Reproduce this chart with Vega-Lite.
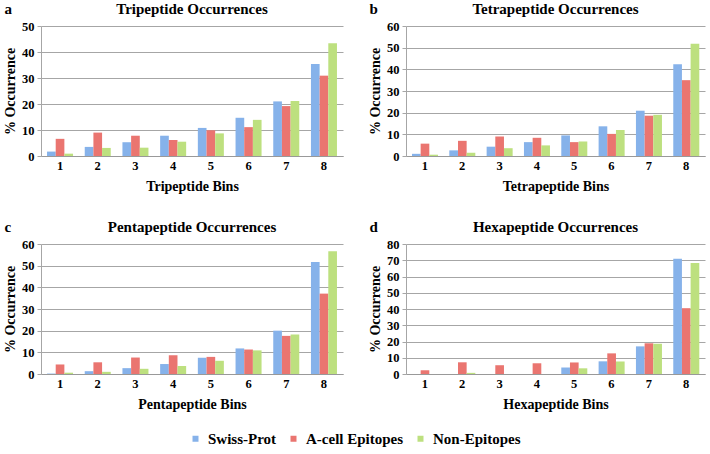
{
  "$schema": "https://vega.github.io/schema/vega-lite/v6.json",
  "padding": {"left": 3, "top": 2, "right": 2, "bottom": 4},
  "datasets": {
    "d": [
      {"panel":"a","bin":1,"series":"Swiss-Prot","value":1.7},
      {"panel":"a","bin":1,"series":"A-cell Epitopes","value":6.6},
      {"panel":"a","bin":1,"series":"Non-Epitopes","value":0.9},
      {"panel":"a","bin":2,"series":"Swiss-Prot","value":3.5},
      {"panel":"a","bin":2,"series":"A-cell Epitopes","value":9.0},
      {"panel":"a","bin":2,"series":"Non-Epitopes","value":3.1},
      {"panel":"a","bin":3,"series":"Swiss-Prot","value":5.3},
      {"panel":"a","bin":3,"series":"A-cell Epitopes","value":7.8},
      {"panel":"a","bin":3,"series":"Non-Epitopes","value":3.2},
      {"panel":"a","bin":4,"series":"Swiss-Prot","value":7.8},
      {"panel":"a","bin":4,"series":"A-cell Epitopes","value":6.2},
      {"panel":"a","bin":4,"series":"Non-Epitopes","value":5.5},
      {"panel":"a","bin":5,"series":"Swiss-Prot","value":10.8},
      {"panel":"a","bin":5,"series":"A-cell Epitopes","value":9.9},
      {"panel":"a","bin":5,"series":"Non-Epitopes","value":8.7},
      {"panel":"a","bin":6,"series":"Swiss-Prot","value":14.7},
      {"panel":"a","bin":6,"series":"A-cell Epitopes","value":11.1},
      {"panel":"a","bin":6,"series":"Non-Epitopes","value":13.9},
      {"panel":"a","bin":7,"series":"Swiss-Prot","value":21.0},
      {"panel":"a","bin":7,"series":"A-cell Epitopes","value":19.2},
      {"panel":"a","bin":7,"series":"Non-Epitopes","value":21.2},
      {"panel":"a","bin":8,"series":"Swiss-Prot","value":35.4},
      {"panel":"a","bin":8,"series":"A-cell Epitopes","value":30.9},
      {"panel":"a","bin":8,"series":"Non-Epitopes","value":43.4},
      {"panel":"b","bin":1,"series":"Swiss-Prot","value":1.0},
      {"panel":"b","bin":1,"series":"A-cell Epitopes","value":5.7},
      {"panel":"b","bin":1,"series":"Non-Epitopes","value":0.6},
      {"panel":"b","bin":2,"series":"Swiss-Prot","value":2.6},
      {"panel":"b","bin":2,"series":"A-cell Epitopes","value":7.0},
      {"panel":"b","bin":2,"series":"Non-Epitopes","value":1.5},
      {"panel":"b","bin":3,"series":"Swiss-Prot","value":4.3},
      {"panel":"b","bin":3,"series":"A-cell Epitopes","value":9.0},
      {"panel":"b","bin":3,"series":"Non-Epitopes","value":3.6},
      {"panel":"b","bin":4,"series":"Swiss-Prot","value":6.4},
      {"panel":"b","bin":4,"series":"A-cell Epitopes","value":8.4},
      {"panel":"b","bin":4,"series":"Non-Epitopes","value":4.9},
      {"panel":"b","bin":5,"series":"Swiss-Prot","value":9.5},
      {"panel":"b","bin":5,"series":"A-cell Epitopes","value":6.4},
      {"panel":"b","bin":5,"series":"Non-Epitopes","value":6.7},
      {"panel":"b","bin":6,"series":"Swiss-Prot","value":13.7},
      {"panel":"b","bin":6,"series":"A-cell Epitopes","value":10.2},
      {"panel":"b","bin":6,"series":"Non-Epitopes","value":12.0},
      {"panel":"b","bin":7,"series":"Swiss-Prot","value":20.9},
      {"panel":"b","bin":7,"series":"A-cell Epitopes","value":18.6},
      {"panel":"b","bin":7,"series":"Non-Epitopes","value":19.0},
      {"panel":"b","bin":8,"series":"Swiss-Prot","value":42.3},
      {"panel":"b","bin":8,"series":"A-cell Epitopes","value":35.0},
      {"panel":"b","bin":8,"series":"Non-Epitopes","value":51.8},
      {"panel":"c","bin":1,"series":"Swiss-Prot","value":0.2},
      {"panel":"c","bin":1,"series":"A-cell Epitopes","value":4.4},
      {"panel":"c","bin":1,"series":"Non-Epitopes","value":0.6},
      {"panel":"c","bin":2,"series":"Swiss-Prot","value":1.3},
      {"panel":"c","bin":2,"series":"A-cell Epitopes","value":5.4},
      {"panel":"c","bin":2,"series":"Non-Epitopes","value":1.0},
      {"panel":"c","bin":3,"series":"Swiss-Prot","value":2.7},
      {"panel":"c","bin":3,"series":"A-cell Epitopes","value":7.6},
      {"panel":"c","bin":3,"series":"Non-Epitopes","value":2.4},
      {"panel":"c","bin":4,"series":"Swiss-Prot","value":4.6},
      {"panel":"c","bin":4,"series":"A-cell Epitopes","value":8.6},
      {"panel":"c","bin":4,"series":"Non-Epitopes","value":3.7},
      {"panel":"c","bin":5,"series":"Swiss-Prot","value":7.5},
      {"panel":"c","bin":5,"series":"A-cell Epitopes","value":7.9},
      {"panel":"c","bin":5,"series":"Non-Epitopes","value":6.1},
      {"panel":"c","bin":6,"series":"Swiss-Prot","value":11.8},
      {"panel":"c","bin":6,"series":"A-cell Epitopes","value":11.3},
      {"panel":"c","bin":6,"series":"Non-Epitopes","value":10.9},
      {"panel":"c","bin":7,"series":"Swiss-Prot","value":20.0},
      {"panel":"c","bin":7,"series":"A-cell Epitopes","value":17.6},
      {"panel":"c","bin":7,"series":"Non-Epitopes","value":18.2},
      {"panel":"c","bin":8,"series":"Swiss-Prot","value":51.7},
      {"panel":"c","bin":8,"series":"A-cell Epitopes","value":37.1},
      {"panel":"c","bin":8,"series":"Non-Epitopes","value":56.7},
      {"panel":"d","bin":1,"series":"Swiss-Prot","value":0},
      {"panel":"d","bin":1,"series":"A-cell Epitopes","value":2.3},
      {"panel":"d","bin":1,"series":"Non-Epitopes","value":0},
      {"panel":"d","bin":2,"series":"Swiss-Prot","value":0},
      {"panel":"d","bin":2,"series":"A-cell Epitopes","value":7.2},
      {"panel":"d","bin":2,"series":"Non-Epitopes","value":0.7},
      {"panel":"d","bin":3,"series":"Swiss-Prot","value":0},
      {"panel":"d","bin":3,"series":"A-cell Epitopes","value":5.4},
      {"panel":"d","bin":3,"series":"Non-Epitopes","value":0},
      {"panel":"d","bin":4,"series":"Swiss-Prot","value":0},
      {"panel":"d","bin":4,"series":"A-cell Epitopes","value":6.6},
      {"panel":"d","bin":4,"series":"Non-Epitopes","value":0},
      {"panel":"d","bin":5,"series":"Swiss-Prot","value":4.0},
      {"panel":"d","bin":5,"series":"A-cell Epitopes","value":7.1},
      {"panel":"d","bin":5,"series":"Non-Epitopes","value":3.5},
      {"panel":"d","bin":6,"series":"Swiss-Prot","value":7.8},
      {"panel":"d","bin":6,"series":"A-cell Epitopes","value":12.7},
      {"panel":"d","bin":6,"series":"Non-Epitopes","value":7.7},
      {"panel":"d","bin":7,"series":"Swiss-Prot","value":17.0},
      {"panel":"d","bin":7,"series":"A-cell Epitopes","value":18.9},
      {"panel":"d","bin":7,"series":"Non-Epitopes","value":18.6},
      {"panel":"d","bin":8,"series":"Swiss-Prot","value":70.9},
      {"panel":"d","bin":8,"series":"A-cell Epitopes","value":40.5},
      {"panel":"d","bin":8,"series":"Non-Epitopes","value":68.3}
    ]
  },
  "config": {
    "font": "Liberation Serif, serif",
    "view": {"stroke": null},
    "axis": {
      "labelFont": "Liberation Serif, serif", "labelFontWeight": "bold", "labelFontSize": 12.5, "labelColor": "#000",
      "titleFont": "Liberation Serif, serif", "titleFontWeight": "bold", "titleFontSize": 14, "titleColor": "#000"
    },
    "axisX": {"labelAngle": 0, "ticks": false, "domainColor": "#999999", "labelPadding": 3, "titlePadding": 8, "grid": false},
    "axisY": {"domain": true, "domainColor": "#a6a6a6", "gridColor": "#a6a6a6", "tickColor": "#a6a6a6", "tickSize": 4, "labelPadding": 3, "titlePadding": 4},
    "title": {"font": "Liberation Serif, serif", "fontSize": 15, "fontWeight": "bold", "color": "#000", "offset": 3},
    "legend": {"labelFont": "Liberation Serif, serif", "labelFontWeight": "bold", "labelFontSize": 15, "labelColor": "#000", "symbolType": "square", "symbolSize": 36, "symbolStrokeWidth": 0, "labelOffset": 5, "columnPadding": 9, "offset": 19, "layout": {"bottom": {"anchor": "middle"}}}
  },
  "columns": 2,
  "spacing": {"row": 26, "column": 25},
  "concat": [
    {
      "title": {"text": "a", "anchor": "start", "dy": 18, "dx": 1},
      "vconcat": [{
        "title": "Tripeptide Occurrences",
        "width": 302, "height": 130,
        "data": {"name": "d"},
        "transform": [{"filter": "datum.panel == 'a'"}],
        "mark": {"type": "bar"},
        "encoding": {
          "x": {"field": "bin", "type": "ordinal", "title": "Tripeptide Bins", "scale": {"paddingInner": 0.31, "paddingOuter": 0.16}},
          "xOffset": {"field": "series", "sort": ["Swiss-Prot", "A-cell Epitopes", "Non-Epitopes"]},
          "y": {"field": "value", "type": "quantitative", "title": "% Occurrence", "scale": {"domain": [0, 50]}, "axis": {"values": [0,10,20,30,40,50]}},
          "color": {"field": "series", "type": "nominal", "scale": {"domain": ["Swiss-Prot", "A-cell Epitopes", "Non-Epitopes"], "range": ["#86b2ea", "#ea7570", "#bde07f"]}, "legend": {"title": null, "orient": "bottom", "direction": "horizontal"}}
        }
      }]
    },
    {
      "title": {"text": "b", "anchor": "start", "dy": 18, "dx": 1},
      "vconcat": [{
        "title": "Tetrapeptide Occurrences",
        "width": 299, "height": 130,
        "data": {"name": "d"},
        "transform": [{"filter": "datum.panel == 'b'"}],
        "mark": {"type": "bar"},
        "encoding": {
          "x": {"field": "bin", "type": "ordinal", "title": "Tetrapeptide Bins", "scale": {"paddingInner": 0.31, "paddingOuter": 0.16}},
          "xOffset": {"field": "series", "sort": ["Swiss-Prot", "A-cell Epitopes", "Non-Epitopes"]},
          "y": {"field": "value", "type": "quantitative", "title": "% Occurrence", "scale": {"domain": [0, 60]}, "axis": {"values": [0,10,20,30,40,50,60]}},
          "color": {"field": "series", "type": "nominal", "scale": {"domain": ["Swiss-Prot", "A-cell Epitopes", "Non-Epitopes"], "range": ["#86b2ea", "#ea7570", "#bde07f"]}, "legend": {"title": null, "orient": "bottom", "direction": "horizontal"}}
        }
      }]
    },
    {
      "title": {"text": "c", "anchor": "start", "dy": 18, "dx": 1},
      "vconcat": [{
        "title": "Pentapeptide Occurrences",
        "width": 302, "height": 130,
        "data": {"name": "d"},
        "transform": [{"filter": "datum.panel == 'c'"}],
        "mark": {"type": "bar"},
        "encoding": {
          "x": {"field": "bin", "type": "ordinal", "title": "Pentapeptide Bins", "scale": {"paddingInner": 0.31, "paddingOuter": 0.16}},
          "xOffset": {"field": "series", "sort": ["Swiss-Prot", "A-cell Epitopes", "Non-Epitopes"]},
          "y": {"field": "value", "type": "quantitative", "title": "% Occurrence", "scale": {"domain": [0, 60]}, "axis": {"values": [0,10,20,30,40,50,60]}},
          "color": {"field": "series", "type": "nominal", "scale": {"domain": ["Swiss-Prot", "A-cell Epitopes", "Non-Epitopes"], "range": ["#86b2ea", "#ea7570", "#bde07f"]}, "legend": {"title": null, "orient": "bottom", "direction": "horizontal"}}
        }
      }]
    },
    {
      "title": {"text": "d", "anchor": "start", "dy": 18, "dx": 1},
      "vconcat": [{
        "title": "Hexapeptide Occurrences",
        "width": 299, "height": 130,
        "data": {"name": "d"},
        "transform": [{"filter": "datum.panel == 'd'"}],
        "mark": {"type": "bar"},
        "encoding": {
          "x": {"field": "bin", "type": "ordinal", "title": "Hexapeptide Bins", "scale": {"paddingInner": 0.31, "paddingOuter": 0.16}},
          "xOffset": {"field": "series", "sort": ["Swiss-Prot", "A-cell Epitopes", "Non-Epitopes"]},
          "y": {"field": "value", "type": "quantitative", "title": "% Occurrence", "scale": {"domain": [0, 80]}, "axis": {"values": [0,10,20,30,40,50,60,70,80]}},
          "color": {"field": "series", "type": "nominal", "scale": {"domain": ["Swiss-Prot", "A-cell Epitopes", "Non-Epitopes"], "range": ["#86b2ea", "#ea7570", "#bde07f"]}, "legend": {"title": null, "orient": "bottom", "direction": "horizontal"}}
        }
      }]
    }
  ]
}
